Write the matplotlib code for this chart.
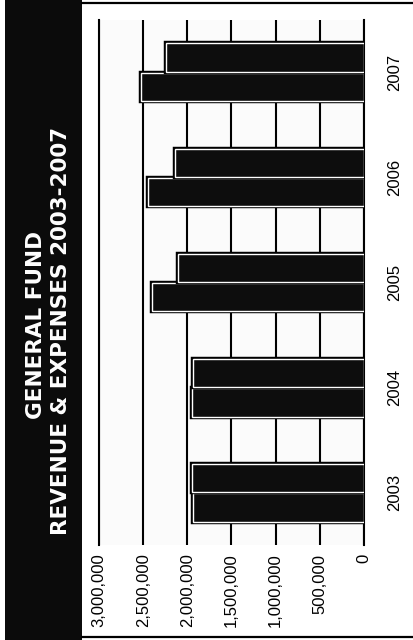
import matplotlib

matplotlib.use("Agg")
import matplotlib.pyplot as plt
import matplotlib.patheffects as pe
from matplotlib.lines import Line2D
from matplotlib.patches import Rectangle
import numpy as np

years = ["2003", "2004", "2005", "2006", "2007"]
revenue = [1_935_000, 1_950_000, 2_400_000, 2_450_000, 2_520_000]
expenses = [1_950_000, 1_935_000, 2_110_000, 2_140_000, 2_240_000]
value_ticks = [0, 500_000, 1_000_000, 1_500_000, 2_000_000, 2_500_000, 3_000_000]
title_lines = ["GENERAL FUND", "REVENUE & EXPENSES 2003-2007"]

plt.rcParams.update({"font.family": ["Liberation Sans", "DejaVu Sans"]})

fig = plt.figure(figsize=(4.13, 6.40), dpi=100)
fig.patch.set_facecolor("white")

# dark title band on the left
fig.patches.append(Rectangle((0.012, 0), 0.187, 1, transform=fig.transFigure,
                             facecolor="#0b0b0b", edgecolor="none", zorder=0))
fig.text(0.087, 0.492, title_lines[0], rotation=90, color="white", ha="center",
         va="center", fontsize=15.5, fontweight="bold", family="DejaVu Sans")
fig.text(0.148, 0.483, title_lines[1], rotation=90, color="white", ha="center",
         va="center", fontsize=15.5, fontweight="bold", family="DejaVu Sans")

# outer frame lines
fig.add_artist(Line2D([0.199, 1], [0.996, 0.996], transform=fig.transFigure, color="k", lw=1.6))
fig.add_artist(Line2D([0.199, 1], [0.005, 0.005], transform=fig.transFigure, color="k", lw=1.6))

ax = fig.add_axes([0.240, 0.148, 0.641, 0.821])
ax.set_facecolor("#fbfbfb")

y = np.arange(len(years))
h = 0.27
stroke = [pe.Stroke(linewidth=3.2, foreground="black"), pe.Normal()]
ax.barh(y - 0.14, revenue, height=h, color="#0d0d0d", edgecolor="white",
        linewidth=1.0, path_effects=stroke, zorder=3)
ax.barh(y + 0.14, expenses, height=h, color="#0d0d0d", edgecolor="white",
        linewidth=1.0, path_effects=stroke, zorder=3)

ax.set_xlim(3_000_000, 0)
ax.set_ylim(-0.5, len(years) - 0.5)

ax.set_xticks(value_ticks, [f"{v:,}" for v in value_ticks])
ax.tick_params(axis="x", length=0, pad=6, labelsize=12, labelrotation=90)
ax.xaxis.grid(True, color="black", lw=1.5, zorder=1)
ax.set_axisbelow(True)

ax.yaxis.tick_right()
ax.set_yticks(y, years)
ax.tick_params(axis="y", length=0, pad=17, labelsize=12, labelrotation=90)
for lbl in ax.get_yticklabels():
    lbl.set_va("center")

for s in ("top", "bottom"):
    ax.spines[s].set_visible(False)
for s in ("left", "right"):
    ax.spines[s].set_linewidth(1.5)

fig.savefig("out.png", dpi=100)
